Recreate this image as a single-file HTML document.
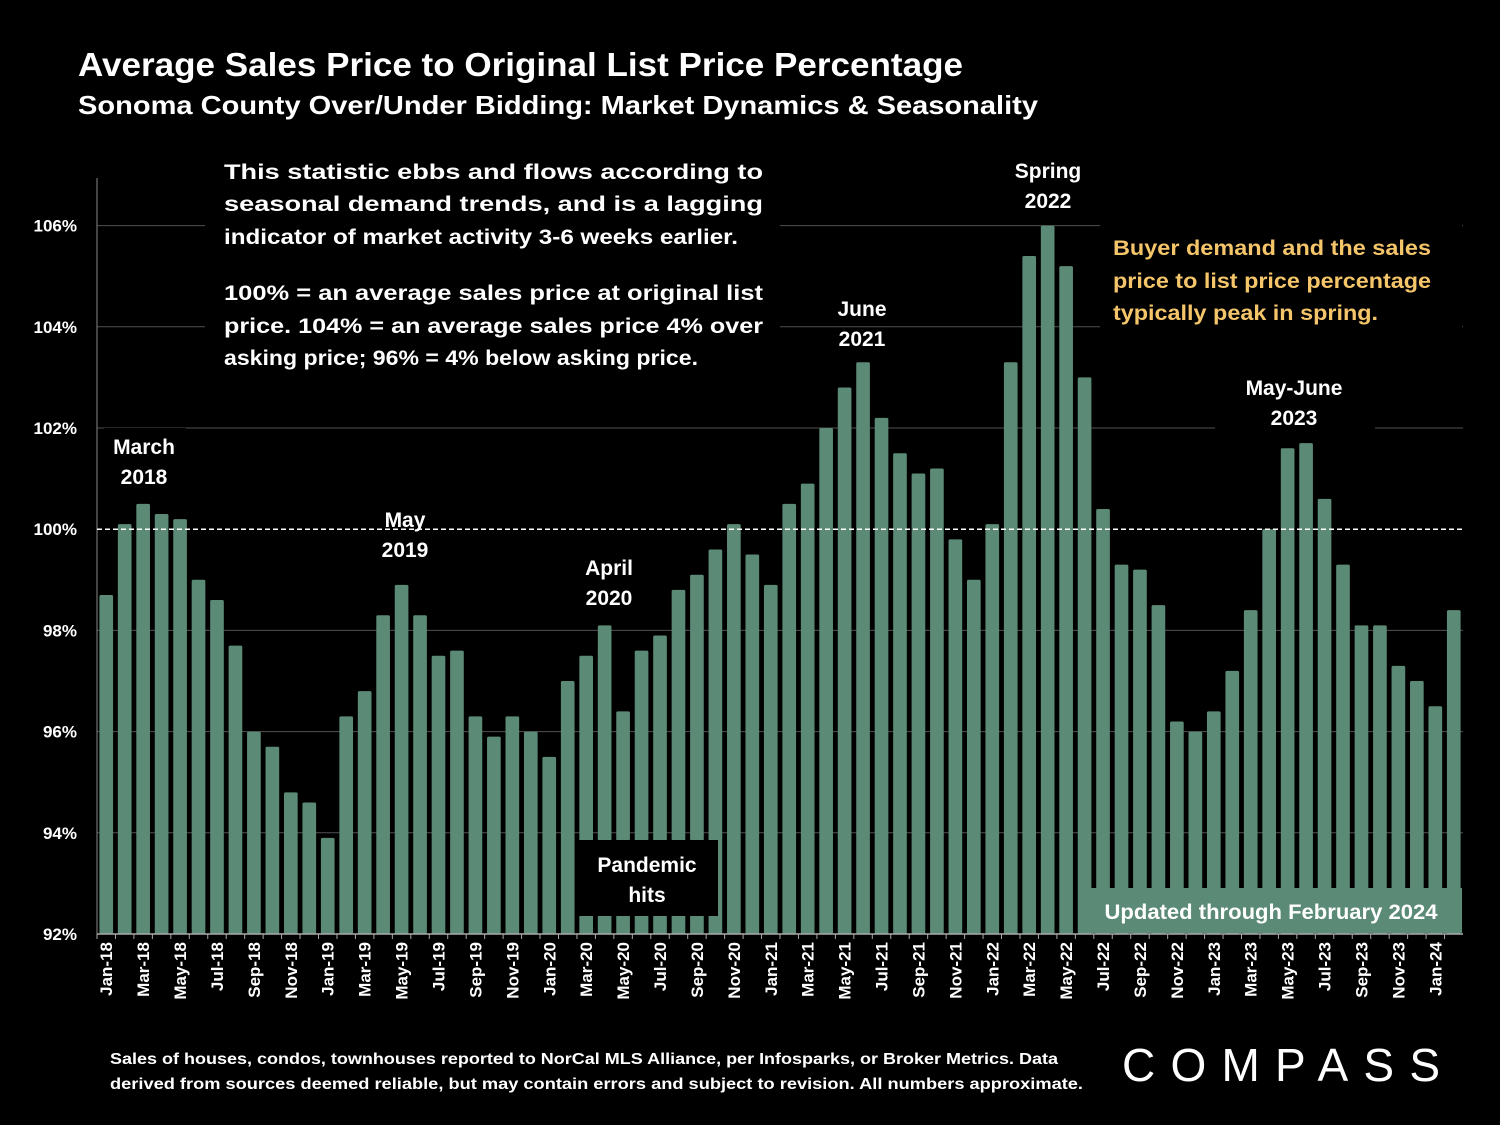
<!DOCTYPE html>
<html><head><meta charset="utf-8"><style>
html,body{margin:0;padding:0;background:#000;}
svg{display:block;font-family:"Liberation Sans",sans-serif;font-weight:bold;}
</style></head><body>
<svg id="chart" width="1500" height="1125" viewBox="0 0 1500 1125">
<rect x="0" y="0" width="1500" height="1125" fill="#000"/>
<text x="78" y="76" fill="#fff" font-size="33" textLength="885" lengthAdjust="spacingAndGlyphs">Average Sales Price to Original List Price Percentage</text>
<text x="78" y="114" fill="#fff" font-size="26" textLength="960" lengthAdjust="spacingAndGlyphs">Sonoma County Over/Under Bidding: Market Dynamics &amp; Seasonality</text>
<g id="grid"></g>
<g id="bars"></g>
<g id="axes"></g>
<g id="annot"></g>
</svg>
<script>
const months = ["Jan-18","Feb-18","Mar-18","Apr-18","May-18","Jun-18","Jul-18","Aug-18","Sep-18","Oct-18","Nov-18","Dec-18",
"Jan-19","Feb-19","Mar-19","Apr-19","May-19","Jun-19","Jul-19","Aug-19","Sep-19","Oct-19","Nov-19","Dec-19",
"Jan-20","Feb-20","Mar-20","Apr-20","May-20","Jun-20","Jul-20","Aug-20","Sep-20","Oct-20","Nov-20","Dec-20",
"Jan-21","Feb-21","Mar-21","Apr-21","May-21","Jun-21","Jul-21","Aug-21","Sep-21","Oct-21","Nov-21","Dec-21",
"Jan-22","Feb-22","Mar-22","Apr-22","May-22","Jun-22","Jul-22","Aug-22","Sep-22","Oct-22","Nov-22","Dec-22",
"Jan-23","Feb-23","Mar-23","Apr-23","May-23","Jun-23","Jul-23","Aug-23","Sep-23","Oct-23","Nov-23","Dec-23",
"Jan-24","Feb-24"];
const values = [98.7,100.1,100.5,100.3,100.2,99.0,98.6,97.7,96.0,95.7,94.8,94.6,
93.9,96.3,96.8,98.3,98.9,98.3,97.5,97.6,96.3,95.9,96.3,96.0,
95.5,97.0,97.5,98.1,96.4,97.6,97.9,98.8,99.1,99.6,100.1,99.5,
98.9,100.5,100.9,102.0,102.8,103.3,102.2,101.5,101.1,101.2,99.8,99.0,
100.1,103.3,105.4,106.0,105.2,103.0,100.4,99.3,99.2,98.5,96.2,96.0,
96.4,97.2,98.4,100.0,101.6,101.7,100.6,99.3,98.1,98.1,97.3,97.0,
96.5,98.4];
const yTicks = [92,94,96,98,100,102,104,106];
const yTickLabels = ["92%","94%","96%","98%","100%","102%","104%","106%"];

const NS="http://www.w3.org/2000/svg";
const X0=97, X1=1463, Y0=934, YMIN=92, PXPER=50.6;
const slot=(X1-X0)/months.length;
function xc(i){return X0+slot*(i+0.5);}
function yv(v){return Y0-(v-YMIN)*PXPER;}
function mk(tag,attrs,parent,txt){const e=document.createElementNS(NS,tag);for(const k in attrs)e.setAttribute(k,attrs[k]);if(txt!==undefined)e.textContent=txt;parent.appendChild(e);return e;}
const grid=document.getElementById('grid'),bars=document.getElementById('bars'),axes=document.getElementById('axes'),annot=document.getElementById('annot');

yTicks.forEach((t,i)=>{
  if(t!==92 && t!==100){
    const l=mk('line',{x1:X0,x2:X1,y1:yv(t),y2:yv(t),stroke:'#505050','stroke-width':1},grid);
    
    
  }
  const tx=mk('text',{x:77,y:yv(t)+6,fill:'#fff','font-size':17,'text-anchor':'end'},axes,yTickLabels[i]);
  
  
});

values.forEach((v,i)=>{
  const w=slot*0.74;
  const r=mk('rect',{x:xc(i)-w/2,y:yv(v),width:w,height:Y0-yv(v),fill:'#5b8a76',rx:1.5},bars);
  
  
});

const dl=mk('line',{x1:X0,x2:X1,y1:yv(100),y2:yv(100),stroke:'#fff','stroke-width':1.5,'stroke-dasharray':'5,3'},grid.parentNode);



const ya=mk('line',{x1:X0,x2:X0,y1:178,y2:Y0,stroke:'#888','stroke-width':1},axes);


const xa=mk('line',{x1:X0,x2:X1,y1:Y0,y2:Y0,stroke:'#aaa','stroke-width':1.5},axes);


months.forEach((m,i)=>{
  mk('line',{x1:X0+slot*i,x2:X0+slot*i,y1:Y0,y2:Y0+5,stroke:'#aaa','stroke-width':1},axes);
  if(i%2===0){
    const t=mk('text',{x:0,y:0,fill:'#fff','font-size':17,'text-anchor':'end',transform:`translate(${xc(i)+6},${Y0+8}) rotate(-90)`},axes,m);
    
    
  }
});

function box(x,y,w,h,fill,name){const r=mk('rect',{x:x,y:y,width:w,height:h,fill:fill},annot);}
function txt(x,y,s,opts,name){const t=mk('text',Object.assign({x:x,y:y,fill:'#fff','font-size':21},opts||{}),annot,s);return t;}

box(205,150,575,230,'#000','note-box');
const L=[["This statistic ebbs and flows according to",179,539],["seasonal demand trends, and is a lagging",211,539],["indicator of market activity 3-6 weeks earlier.",244,514],
["100% = an average sales price at original list",300,539],["price. 104% = an average sales price 4% over",333,539],["asking price; 96% = 4% below asking price.",365,474]];
L.forEach(l=>txt(224,l[1],l[0],{textLength:l[2],lengthAdjust:'spacingAndGlyphs'},'note-text'));

box(104,428,82,60,'#000','label-bg-march-2018');
txt(144,454,'March',{'text-anchor':'middle'},'label-march-2018');
txt(144,484,'2018',{'text-anchor':'middle'},'label-march-2018-year');
txt(405,527,'May',{'text-anchor':'middle'},'label-may-2019');
txt(405,557,'2019',{'text-anchor':'middle'},'label-may-2019-year');
txt(609,575,'April',{'text-anchor':'middle'},'label-april-2020');
txt(609,605,'2020',{'text-anchor':'middle'},'label-april-2020-year');
txt(862,316,'June',{'text-anchor':'middle'},'label-june-2021');
txt(862,346,'2021',{'text-anchor':'middle'},'label-june-2021-year');
txt(1048,178,'Spring',{'text-anchor':'middle'},'label-spring-2022');
txt(1048,208,'2022',{'text-anchor':'middle'},'label-spring-2022-year');
box(1215,372,160,60,'#000','label-bg-may-june-2023');
txt(1294,395,'May-June',{'text-anchor':'middle'},'label-may-june-2023');
txt(1294,425,'2023',{'text-anchor':'middle'},'label-may-june-2023-year');

box(1100,225,362,105,'#000','buyer-note-bg');
txt(1113,255,'Buyer demand and the sales',{fill:'#f5c56a',textLength:318,lengthAdjust:'spacingAndGlyphs'},'buyer-note');
txt(1113,288,'price to list price percentage',{fill:'#f5c56a',textLength:318,lengthAdjust:'spacingAndGlyphs'},'buyer-note');
txt(1113,320,'typically peak in spring.',{fill:'#f5c56a',textLength:265,lengthAdjust:'spacingAndGlyphs'},'buyer-note');

box(577,840,141,76,'#000','pandemic-box');
txt(647,872,'Pandemic',{'text-anchor':'middle'},'pandemic-label');
txt(647,902,'hits',{'text-anchor':'middle'},'pandemic-label-2');

box(1090,888,372,45,'#5b8a76','updated-box');
txt(1271,919,'Updated through February 2024',{'text-anchor':'middle',textLength:333,lengthAdjust:'spacingAndGlyphs'},'updated-label');

txt(110,1064,'Sales of houses, condos, townhouses reported to NorCal MLS Alliance, per Infosparks, or Broker Metrics. Data',{'font-size':16,textLength:948,lengthAdjust:'spacingAndGlyphs'},'footnote');
txt(110,1089,'derived from sources deemed reliable, but may contain errors and subject to revision. All numbers approximate.',{'font-size':16,textLength:973,lengthAdjust:'spacingAndGlyphs'},'footnote');
txt(1122,1081,'COMPASS',{'font-size':46,'font-weight':'normal',textLength:318,lengthAdjust:'spacing'},'compass-logo');
</script>
</body></html>
